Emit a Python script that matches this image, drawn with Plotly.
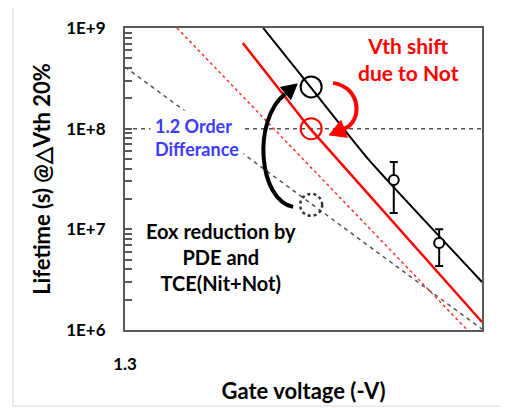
import plotly.graph_objects as go

# ---------------- data ----------------
x_range = [1.3, 2.0]
y_range_log = [6, 9]
y_major = [1e6, 1e7, 1e8, 1e9]
y_major_text = ["1E+6", "1E+7", "1E+8", "1E+9"]
x_tickvals = [1.3]
x_ticktext = ["1.3"]

# power-law fits (solid)
fit_black_x = [1.571, 1.665, 1.780, 2.0]
fit_black_y = [1.0e9, 2.54e8, 4.78e7, 3.0e6]
fit_red_x = [1.531, 1.663, 2.0]
fit_red_y = [7.1e8, 1.0e8, 1.2e6]

# reference (dashed) lines
ref_red_x = [1.402, 1.971]
ref_red_y = [1e9, 1e6]
ref_black_x = [1.3, 2.0]
ref_black_y = [4.1e8, 1.02e6]
target_x = [1.3, 2.0]
target_y = [1e8, 1e8]

# measured points with error bars
meas_x = [1.827, 1.916]
meas_y = [3.09e7, 7.3e6]
meas_err_plus = [1.58e7, 2.7e6]
meas_err_minus = [1.64e7, 2.97e6]

# operating point markers
op_x = 1.665
op_black_y = 2.6e8
op_red_y = 1.0e8
op_eox_y = 1.75e7

FONT = "Lato, sans-serif"
AXIS_COLOR = "#595959"

# tick positions: majors labelled, minors (2..9 per decade) unlabelled
y_tickvals, y_ticktext = [], []
for i, m in enumerate(y_major):
    y_tickvals.append(m)
    y_ticktext.append(y_major_text[i])
    if i < len(y_major) - 1:
        for k in range(2, 10):
            y_tickvals.append(m * k)
            y_ticktext.append("")

fig = go.Figure()

fig.add_trace(go.Scatter(x=target_x, y=target_y, mode="lines",
                         line=dict(color="#555555", width=1.5, dash="4px,4px"),
                         hoverinfo="skip"))
fig.add_trace(go.Scatter(x=ref_black_x, y=ref_black_y, mode="lines",
                         line=dict(color="#555555", width=1.5, dash="4px,4px"),
                         hoverinfo="skip"))
fig.add_trace(go.Scatter(x=ref_red_x, y=ref_red_y, mode="lines",
                         line=dict(color="#ff3030", width=1.5, dash="3px,3px"),
                         hoverinfo="skip"))
fig.add_trace(go.Scatter(x=fit_black_x, y=fit_black_y, mode="lines",
                         line=dict(color="black", width=2, shape="spline", smoothing=0.5)))
fig.add_trace(go.Scatter(x=fit_red_x, y=fit_red_y, mode="lines",
                         line=dict(color="#ff0000", width=2.5)))
fig.add_trace(go.Scatter(
    x=meas_x, y=meas_y, mode="markers",
    marker=dict(symbol="circle", size=10, color="white",
                line=dict(color="black", width=2)),
    error_y=dict(type="data", array=meas_err_plus, arrayminus=meas_err_minus,
                 color="black", thickness=2, width=4)))
fig.add_trace(go.Scatter(x=[op_x], y=[op_black_y], mode="markers",
                         marker=dict(symbol="circle-open", size=21, color="black",
                                     line=dict(width=2))))
fig.add_trace(go.Scatter(x=[op_x], y=[op_red_y], mode="markers",
                         marker=dict(symbol="circle-open", size=21, color="#ff0000",
                                     line=dict(width=2))))

shapes = []
# dotted circle (bezier circle, radius 11 px, around the Eox operating point)
dotted_circle = ("M 11,0 C 11,6.075 6.075,11 0,11 C -6.075,11 -11,6.075 -11,0 "
                 "C -11,-6.075 -6.075,-11 0,-11 C 6.075,-11 11,-6.075 11,0 Z")
shapes.append(dict(type="path", xref="x", yref="y", xsizemode="pixel", ysizemode="pixel",
                   xanchor=op_x, yanchor=op_eox_y, path=dotted_circle,
                   line=dict(color="#333333", width=2.5, dash="dot")))

# curved arrows (pixel offsets relative to the black operating circle)
black_arc = "M -18,-120 C -53,-113 -59,-33 -26,-7"
black_head = "M -14,3 L -20.4,-12.8 L -30.6,-0.4 Z"
red_arc = "M 22,4 C 51,-1 51,-35 33,-42"
red_head = "M 18,-48 L 36.2,-50.4 L 29.8,-33.6 Z"
for path, col, fill in [(black_arc, "black", None), (red_arc, "#ff0000", None),
                        (black_head, "black", "black"), (red_head, "#ff0000", "#ff0000")]:
    d = dict(type="path", xref="x", yref="y", xsizemode="pixel", ysizemode="pixel",
             xanchor=op_x, yanchor=op_black_y, path=path,
             line=dict(color=col, width=4 if fill is None else 1))
    if fill:
        d["fillcolor"] = fill
    shapes.append(d)

# outer frame
shapes.append(dict(type="rect", xref="paper", yref="paper", x0=-0.314, x1=1.08, y0=-0.252, y1=1.072,
                   line=dict(color="#d9d9d9", width=1), layer="below"))

annotations = [
    dict(text="Vth shift<br>due to Not", xref="paper", yref="paper", x=0.793, y=0.897,
         xanchor="center", yanchor="middle",
         showarrow=False, font=dict(family=FONT, size=21, color="#ff0000", weight="bold"),
         align="center"),
    dict(text="1.2 Order<br>Differance", xref="paper", yref="paper", x=0.07, y=0.639,
         xanchor="left", yanchor="middle", showarrow=False, align="left",
         bgcolor="white", borderpad=4,
         font=dict(family=FONT, size=18, color="#3b3bff", weight="bold")),
    dict(text="Eox reduction by<br>PDE and<br>TCE(Nit+Not)", xref="paper", yref="paper",
         x=0.269, y=0.242, xanchor="center", yanchor="middle",
         showarrow=False, align="center",
         font=dict(family=FONT, size=20, color="black", weight="bold")),
]

fig.update_layout(
    width=500, height=400,
    margin=dict(l=117, r=26, t=20, b=78, pad=0, autoexpand=False),
    plot_bgcolor="white", paper_bgcolor="white",
    showlegend=False,
    shapes=shapes, annotations=annotations,
    xaxis=dict(range=x_range, tickvals=x_tickvals, ticktext=x_ticktext, ticks="",
               automargin=False,
               showgrid=False, zeroline=False, showline=True, mirror=True,
               linecolor=AXIS_COLOR, linewidth=2, ticklabelstandoff=18,
               tickfont=dict(family=FONT, size=17, color="black", weight="bold"),
               title=dict(text="Gate voltage (-V)", standoff=10,
                          font=dict(family=FONT, size=22, color="black", weight="bold"))),
    yaxis=dict(type="log", range=y_range_log, tickvals=y_tickvals, ticktext=y_ticktext,
               automargin=False,
               ticks="inside", ticklen=7, tickcolor=AXIS_COLOR, tickwidth=1.5,
               showgrid=False, zeroline=False, showline=True, mirror=True,
               linecolor=AXIS_COLOR, linewidth=2, ticklabelstandoff=14,
               tickfont=dict(family=FONT, size=17, color="black", weight="bold"),
               title=dict(text="Lifetime (s) @\u25b3Vth 20%", standoff=10,
                          font=dict(family=FONT, size=22, color="black", weight="bold"))),
)

fig.write_html("out.html")
